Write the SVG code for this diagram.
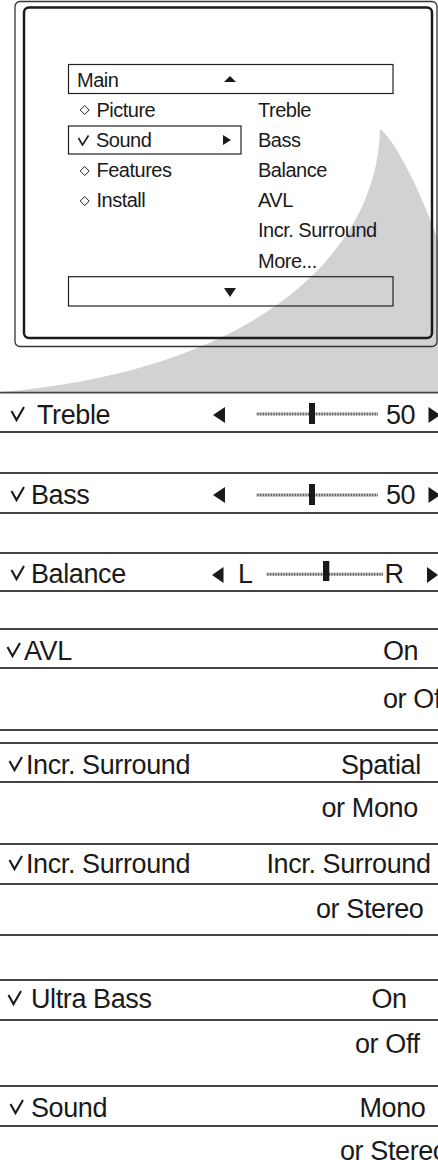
<svg xmlns="http://www.w3.org/2000/svg" width="438" height="1160" viewBox="0 0 438 1160">
<style>
.m{font-family:"Liberation Sans",Arial,sans-serif;font-size:20px;letter-spacing:-0.5px;fill:#1a1a1a}
.r{font-family:"Liberation Sans",Arial,sans-serif;font-size:27px;letter-spacing:-0.4px;fill:#1a1a1a}
.sep{stroke:#444;stroke-width:1.8}
.box{fill:none;stroke:#222;stroke-width:1.2}
.tri{fill:#1a1a1a}
.dia{fill:none;stroke:#222;stroke-width:1}
.slide{stroke:#555;stroke-width:3;stroke-dasharray:1 0.6}
.thumb{fill:#1a1a1a}
</style>
<defs>
<path id="chk" d="M0,4 L5,13 L12.5,0" fill="none" stroke="#1a1a1a" stroke-width="2.1" stroke-linejoin="miter"/>
<path id="chks" d="M0,2.5 L4,9.5 L10,0" fill="none" stroke="#1a1a1a" stroke-width="1.6"/>
<path id="dm" d="M0,-4.5 L4.5,0 L0,4.5 L-4.5,0 Z" class="dia"/>
</defs>
<rect width="438" height="1160" fill="#fff"/>
<g id="zoom-swoosh">
<path d="M380,129 C395,140 420,190 438,240 L438,392 L0,392 C260,370 378,250 380,129 Z" fill="#d1d2d4"/>
</g>
<g id="menu-panel">
<rect x="15" y="1.5" width="422" height="345" rx="5" fill="none" stroke="#333" stroke-width="1.3"/>
<rect x="24" y="7.5" width="408" height="330.5" rx="5" fill="none" stroke="#1a1a1a" stroke-width="2.5"/>
<g id="main-bar">
<rect class="box" x="68.5" y="64.5" width="324.5" height="29"/>
<text class="m" x="77" y="87.3">Main</text>
<path class="tri" d="M224,82 L236,82 L230,76 Z"/>
</g>
<g id="item-picture"><use href="#dm" x="84.7" y="110"/><text class="m" x="96.5" y="117.3">Picture</text></g>
<g id="item-sound">
<rect class="box" x="68.5" y="126" width="172.5" height="28"/>
<use href="#chks" x="78.5" y="135.5"/>
<text class="m" x="96" y="147.3">Sound</text>
<path class="tri" d="M223,135 L223,145 L231,140 Z"/>
</g>
<g id="item-features"><use href="#dm" x="84.7" y="171"/><text class="m" x="96.5" y="177.3">Features</text></g>
<g id="item-install"><use href="#dm" x="84.7" y="201"/><text class="m" x="96.5" y="207.3">Install</text></g>
<g id="submenu">
<text class="m" x="258" y="117.3">Treble</text>
<text class="m" x="258" y="147.3">Bass</text>
<text class="m" x="258" y="177.3">Balance</text>
<text class="m" x="258" y="207.3">AVL</text>
<text class="m" x="258" y="237.3">Incr. Surround</text>
<text class="m" x="258" y="267.7">More...</text>
</g>
<g id="bottom-bar">
<rect class="box" x="68.5" y="276.7" width="324.5" height="29.3"/>
<path class="tri" d="M224,288 L236,288 L230,297 Z"/>
</g>
</g>
<g id="separators">
<line class="sep" x1="0" y1="392.7" x2="438" y2="392.7"/>
<line class="sep" x1="0" y1="432" x2="438" y2="432"/>
<line class="sep" x1="0" y1="473" x2="438" y2="473"/>
<line class="sep" x1="0" y1="513" x2="438" y2="513"/>
<line class="sep" x1="0" y1="553" x2="438" y2="553"/>
<line class="sep" x1="0" y1="591" x2="438" y2="591"/>
<line class="sep" x1="0" y1="629" x2="438" y2="629"/>
<line class="sep" x1="0" y1="668" x2="438" y2="668"/>
<line class="sep" x1="0" y1="730" x2="438" y2="730"/>
<line class="sep" x1="0" y1="743" x2="438" y2="743"/>
<line class="sep" x1="0" y1="782" x2="438" y2="782"/>
<line class="sep" x1="0" y1="844" x2="438" y2="844"/>
<line class="sep" x1="0" y1="884" x2="438" y2="884"/>
<line class="sep" x1="0" y1="935" x2="438" y2="935"/>
<line class="sep" x1="0" y1="980" x2="438" y2="980"/>
<line class="sep" x1="0" y1="1020" x2="438" y2="1020"/>
<line class="sep" x1="0" y1="1086" x2="438" y2="1086"/>
<line class="sep" x1="0" y1="1126" x2="438" y2="1126"/>
</g>
<g id="row-treble">
<use href="#chk" x="11.5" y="407"/>
<text class="r" x="37" y="424">Treble</text>
<path class="tri" d="M213,415 L225,407 L225,423 Z"/>
<line class="slide" x1="256.7" y1="414" x2="377.7" y2="414"/>
<rect class="thumb" x="309" y="403" width="6" height="21"/>
<text class="r" x="386" y="424">50</text>
<path class="tri" d="M428.5,407 L428.5,423 L440,415 Z"/>
</g>
<g id="row-bass">
<use href="#chk" x="11.5" y="487"/>
<text class="r" x="31" y="504">Bass</text>
<path class="tri" d="M213,495 L225,487 L225,503 Z"/>
<line class="slide" x1="256.7" y1="495" x2="377.7" y2="495"/>
<rect class="thumb" x="309" y="484" width="6" height="21"/>
<text class="r" x="386" y="504">50</text>
<path class="tri" d="M428.5,487 L428.5,503 L440,495 Z"/>
</g>
<g id="row-balance">
<use href="#chk" x="11.5" y="566"/>
<text class="r" x="31" y="583">Balance</text>
<path class="tri" d="M212,575 L223.5,567 L223.5,583 Z"/>
<text class="r" x="238" y="583">L</text>
<line class="slide" x1="266.7" y1="574.3" x2="383.3" y2="574.3"/>
<rect class="thumb" x="323" y="561" width="6.3" height="20"/>
<text class="r" x="384.5" y="583">R</text>
<path class="tri" d="M427,567 L427,583 L438,575 Z"/>
</g>
<g id="row-avl">
<use href="#chk" x="7.5" y="643"/>
<text class="r" x="24" y="660">AVL</text>
<text class="r" x="383" y="660">On</text>
<text class="r" x="383" y="708">or Off</text>
</g>
<g id="row-incr-surround-1">
<use href="#chk" x="9.5" y="757"/>
<text class="r" x="26" y="774">Incr. Surround</text>
<text class="r" x="341" y="774">Spatial</text>
<text class="r" x="321.5" y="816.7">or Mono</text>
</g>
<g id="row-incr-surround-2">
<use href="#chk" x="9.5" y="856"/>
<text class="r" x="26" y="873">Incr. Surround</text>
<text class="r" x="266.5" y="873">Incr. Surround</text>
<text class="r" x="316" y="918.3">or Stereo</text>
</g>
<g id="row-ultra-bass">
<use href="#chk" x="8.5" y="991"/>
<text class="r" x="31" y="1008">Ultra Bass</text>
<text class="r" x="371.5" y="1008">On</text>
<text class="r" x="355" y="1053">or Off</text>
</g>
<g id="row-sound">
<use href="#chk" x="10.5" y="1100"/>
<text class="r" x="31" y="1117">Sound</text>
<text class="r" x="359.5" y="1117">Mono</text>
<text class="r" x="340" y="1160">or Stereo</text>
</g>
</svg>
